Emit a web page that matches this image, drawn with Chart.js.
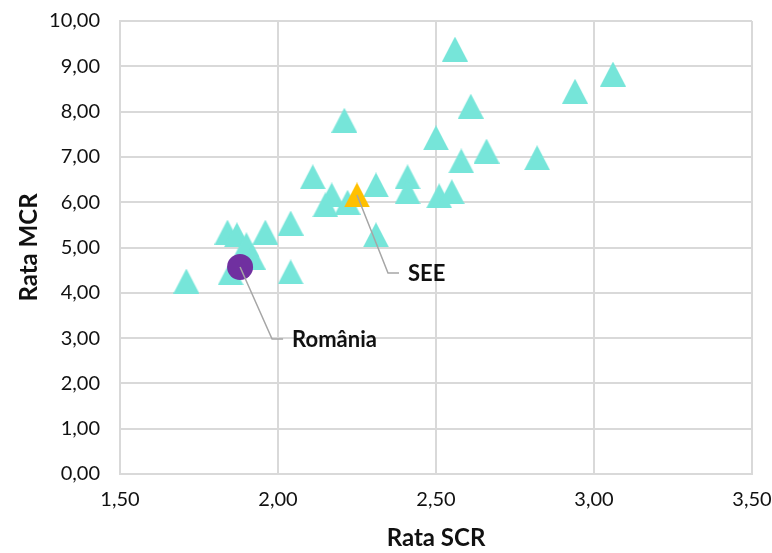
<!DOCTYPE html>
<html>
<head>
<meta charset="utf-8">
<title>Rata SCR vs Rata MCR</title>
<script src="https://cdn.jsdelivr.net/npm/chart.js@4/dist/chart.umd.min.js"></script>
<style>
  html, body { margin: 0; padding: 0; background: #fff; }
  #wrap { width: 772px; height: 553px; }
</style>
</head>
<body>
<div id="wrap"><canvas id="scatter" width="772" height="553"></canvas></div>
<script>
// Other banks / countries (triangles)
const scrOthers = [1.71, 1.85, 1.84, 1.87, 1.90, 1.92, 1.96, 2.04, 2.04, 2.11, 2.17, 2.15, 2.22, 2.21,
                   2.31, 2.31, 2.41, 2.41, 2.51, 2.55, 2.50, 2.58, 2.66, 2.61, 2.56, 2.82, 2.94, 3.06];
const mcrOthers = [4.26, 4.44, 5.34, 5.28, 5.06, 4.79, 5.34, 5.54, 4.46, 6.56, 6.16, 5.94, 6.00, 7.81,
                   6.38, 5.28, 6.56, 6.23, 6.14, 6.23, 7.42, 6.91, 7.13, 8.12, 9.38, 6.98, 8.45, 8.83];

// Highlighted points
const romaniaScr = [1.88];
const romaniaMcr = [4.57];
const seeScr = [2.25];
const seeMcr = [6.16];

// Axis ticks
const xTicks = [1.5, 2.0, 2.5, 3.0, 3.5];
const yTicks = [0, 1, 2, 3, 4, 5, 6, 7, 8, 9, 10];

function toPoints(xs, ys) {
  return xs.map((x, i) => ({ x: x, y: ys[i] }));
}

function fmt(v) {
  return Number(v).toFixed(2).replace('.', ',');
}

// triangle marker as a canvas, so it is centred on its bounding box
function triangleImg(color, w, h) {
  const c = document.createElement('canvas');
  c.width = w;
  c.height = h;
  const g = c.getContext('2d');
  g.fillStyle = color;
  g.beginPath();
  g.moveTo(w / 2, 0);
  g.lineTo(w, h);
  g.lineTo(0, h);
  g.closePath();
  g.fill();
  return c;
}

const tealTri = triangleImg('#76e5d9', 26, 25);
const goldTri = triangleImg('#ffc000', 26, 25);

// leader lines + labels
const callouts = {
  id: 'callouts',
  afterDatasetsDraw(chart, args, opts) {
    const ctx = chart.ctx;
    const xs = chart.scales.x;
    const ys = chart.scales.y;
    ctx.save();
    opts.items.forEach(item => {
      const px = xs.getPixelForValue(item.x);
      const py = ys.getPixelForValue(item.y);
      ctx.strokeStyle = '#a6a6a6';
      ctx.lineWidth = 1.5;
      ctx.beginPath();
      ctx.moveTo(px, py);
      ctx.lineTo(px + item.dx, py + item.dy);
      ctx.lineTo(px + item.dx + 11, py + item.dy);
      ctx.stroke();
      ctx.fillStyle = '#111';
      ctx.font = 'bold 22px Lato';
      ctx.textAlign = 'left';
      ctx.textBaseline = 'middle';
      ctx.fillText(item.text, px + item.dx + 20, py + item.dy + 1);
    });
    ctx.restore();
  }
};

new Chart(document.getElementById('scatter'), {
  type: 'scatter',
  data: {
    datasets: [
      {
        label: 'România',
        data: toPoints(romaniaScr, romaniaMcr),
        pointStyle: 'circle',
        pointRadius: 13,
        pointBackgroundColor: '#7030a0',
        pointBorderWidth: 0,
        order: 0
      },
      {
        label: 'SEE',
        data: toPoints(seeScr, seeMcr),
        pointStyle: goldTri,
        order: 1
      },
      {
        label: 'Altele',
        data: toPoints(scrOthers, mcrOthers),
        pointStyle: tealTri,
        order: 2
      }
    ]
  },
  options: {
    responsive: false,
    animation: false,
    events: [],
    layout: { padding: { top: 21, right: 20, left: 0, bottom: 0 } },
    plugins: {
      legend: { display: false },
      tooltip: { enabled: false },
      callouts: {
        items: [
          { x: romaniaScr[0], y: romaniaMcr[0], dx: 32, dy: 72, text: 'România' },
          { x: seeScr[0], y: seeMcr[0], dx: 31, dy: 78, text: 'SEE' }
        ]
      }
    },
    scales: {
      x: {
        type: 'linear',
        min: xTicks[0],
        max: xTicks[xTicks.length - 1],
        afterBuildTicks: s => { s.ticks = xTicks.map(v => ({ value: v })); },
        afterFit: s => {
          s.height = 79;
          s.paddingLeft = 0;
          s.paddingRight = 0;
        },
        grid: { color: '#d9d9d9', lineWidth: 2, drawTicks: false },
        border: { color: '#d9d9d9', width: 2 },
        ticks: {
          padding: 14,
          color: '#111',
          font: { family: 'Lato', size: 20 },
          callback: v => fmt(v)
        },
        title: {
          display: true,
          text: 'Rata SCR',
          color: '#111',
          font: { family: 'Lato', size: 24, weight: 'bold' },
          padding: { top: 0, bottom: 0 }
        }
      },
      y: {
        type: 'linear',
        min: yTicks[0],
        max: yTicks[yTicks.length - 1],
        afterBuildTicks: s => { s.ticks = yTicks.map(v => ({ value: v })); },
        afterFit: s => {
          s.width = 120;
          s.paddingTop = 0;
          s.paddingBottom = 0;
        },
        grid: { color: '#d9d9d9', lineWidth: 2, drawTicks: false },
        border: { color: '#d9d9d9', width: 2 },
        ticks: {
          padding: 20,
          color: '#111',
          font: { family: 'Lato', size: 20 },
          callback: v => fmt(v)
        },
        title: {
          display: true,
          text: 'Rata MCR',
          color: '#111',
          font: { family: 'Lato', size: 24, weight: 'bold' },
          padding: { top: 15, bottom: 0 }
        }
      }
    }
  },
  plugins: [callouts]
});
</script>
</body>
</html>
